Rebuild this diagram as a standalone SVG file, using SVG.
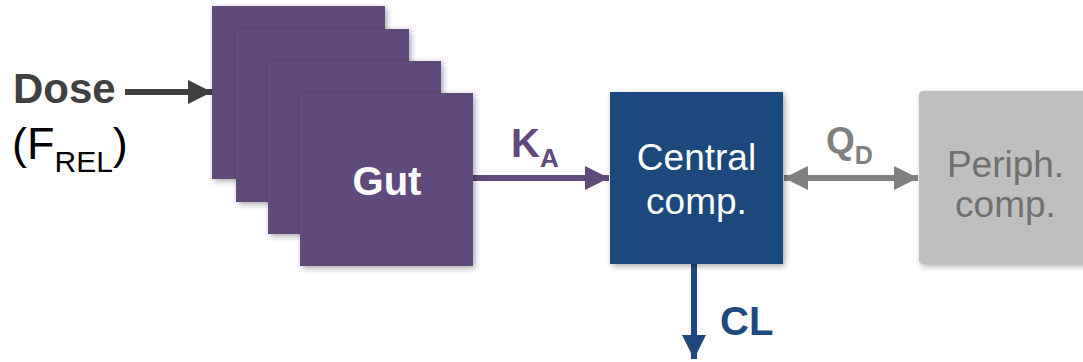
<svg xmlns="http://www.w3.org/2000/svg" width="1083" height="362" viewBox="0 0 1083 362">
  <defs>
    <filter id="sh" x="-20%" y="-20%" width="150%" height="150%">
      <feGaussianBlur in="SourceAlpha" stdDeviation="3"/>
      <feOffset dx="2" dy="2" result="b"/>
      <feComponentTransfer><feFuncA type="linear" slope="0.35"/></feComponentTransfer>
      <feMerge><feMergeNode/><feMergeNode in="SourceGraphic"/></feMerge>
    </filter>
    <marker id="ahDark" markerWidth="24" markerHeight="24" viewBox="0 0 24 24" refX="24" refY="12" markerUnits="userSpaceOnUse" orient="auto">
      <path d="M0,0 L24,12 L0,24 Z" fill="#404040"/>
    </marker>
    <marker id="ahPurple" markerWidth="24" markerHeight="24" viewBox="0 0 24 24" refX="24" refY="12" markerUnits="userSpaceOnUse" orient="auto">
      <path d="M0,0 L24,12 L0,24 Z" fill="#604a7b"/>
    </marker>
    <marker id="ahGray" markerWidth="24" markerHeight="24" viewBox="0 0 24 24" refX="24" refY="12" markerUnits="userSpaceOnUse" orient="auto-start-reverse">
      <path d="M0,0 L24,12 L0,24 Z" fill="#808080"/>
    </marker>
    <marker id="ahBlue" markerWidth="24" markerHeight="24" viewBox="0 0 24 24" refX="24" refY="12" markerUnits="userSpaceOnUse" orient="auto">
      <path d="M0,0 L24,12 L0,24 Z" fill="#1f497d"/>
    </marker>
  </defs>
  <style>
    text { font-family: "Liberation Sans", Arial, sans-serif; }
    .gut { fill: #604a7b; filter: url(#sh); }
    .b { font-weight: bold; }
  </style>

  <g id="connectors" fill="none">
    <line x1="125" y1="92" x2="212" y2="92" stroke="#404040" stroke-width="6" marker-end="url(#ahDark)"/>
    <line x1="473" y1="178" x2="609" y2="178" stroke="#604a7b" stroke-width="6" marker-end="url(#ahPurple)"/>
    <line x1="784" y1="178" x2="918" y2="178" stroke="#808080" stroke-width="6" marker-start="url(#ahGray)" marker-end="url(#ahGray)"/>
    <line x1="694" y1="264" x2="694" y2="359" stroke="#1f497d" stroke-width="6" marker-end="url(#ahBlue)"/>
  </g>

  <g id="dose-label">
    <text x="13" y="103" font-size="42" class="b" fill="#404040">Dose</text>
    <text x="12" y="159" font-size="45" fill="#000">(F<tspan font-size="30" dy="13">REL</tspan><tspan dy="-13">)</tspan></text>
  </g>

  <g id="gut">
    <rect class="gut" x="212" y="6" width="173" height="173"/>
    <rect class="gut" x="236" y="29" width="173" height="173"/>
    <rect class="gut" x="268" y="61" width="173" height="173"/>
    <rect class="gut" x="300" y="93" width="173" height="173"/>
    <text x="387" y="195" font-size="40" class="b" fill="#fff" text-anchor="middle">Gut</text>
  </g>

  <g id="ka-label">
    <text x="511" y="157" font-size="40" class="b" fill="#604a7b">K<tspan font-size="26" dy="10">A</tspan></text>
  </g>

  <g id="central">
    <rect x="610" y="92" width="173" height="172" fill="#1f497d" filter="url(#sh)"/>
    <text x="696.5" y="170" font-size="37" fill="#fff" text-anchor="middle">Central</text>
    <text x="696.5" y="214" font-size="37" fill="#fff" text-anchor="middle">comp.</text>
  </g>

  <g id="qd-label">
    <text x="826" y="153" font-size="37" class="b" fill="#808080">Q<tspan font-size="25" dy="11">D</tspan></text>
  </g>

  <g id="periph">
    <rect x="919" y="91" width="176" height="173" rx="4" fill="#bfbfbf" filter="url(#sh)"/>
    <text x="1005.5" y="177" font-size="37" fill="#6f6f6f" text-anchor="middle">Periph.</text>
    <text x="1005.5" y="217" font-size="37" fill="#6f6f6f" text-anchor="middle">comp.</text>
  </g>

  <g id="cl-label">
    <text x="720" y="335" font-size="40" class="b" fill="#1f497d">CL</text>
  </g>
</svg>
